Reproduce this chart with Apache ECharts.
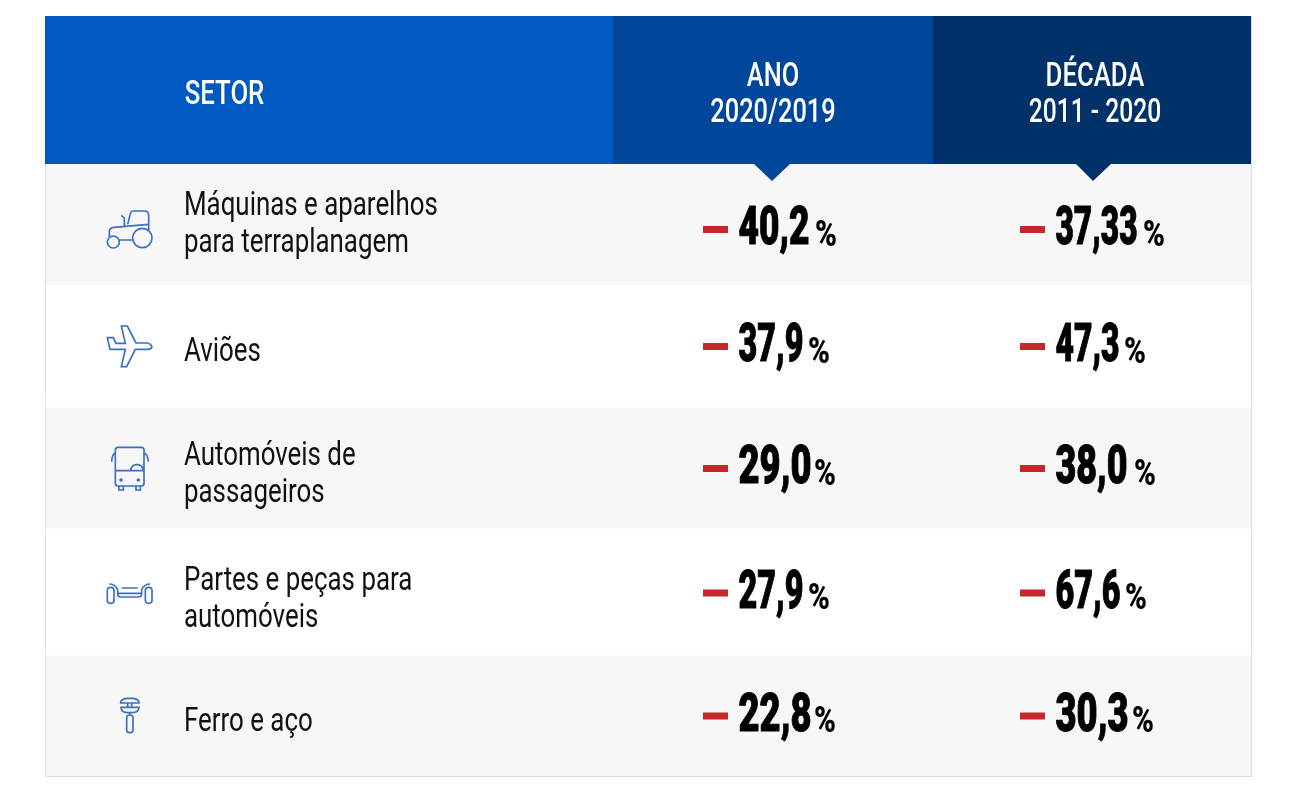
<!DOCTYPE html>
<html>
<head>
<meta charset="utf-8">
<style>
html, body { margin: 0; padding: 0; background: #fff; }
#chart { width: 1292px; height: 796px; }
</style>
<script src="https://cdn.jsdelivr.net/npm/echarts@6/dist/echarts.min.js"></script>
</head>
<body>
<div id="chart"></div>
<script>
// dados
const rowNames = ['tratores', 'avioes', 'automoveis', 'pecas', 'ferro'];
const sectorLines = [
    ['Máquinas e aparelhos', 'para terraplanagem'],
    ['Aviões'],
    ['Automóveis de', 'passageiros'],
    ['Partes e peças para', 'automóveis'],
    ['Ferro e aço']
];
const yearValues = ['40,2', '37,9', '29,0', '27,9', '22,8'];
const decadeValues = ['37,33', '47,3', '38,0', '67,6', '30,3'];
const headerSector = 'SETOR';
const headerYear = ['ANO', '2020/2019'];
const headerDecade = ['DÉCADA', '2011 - 2020'];

// layout
const rowEdges = [164, 285, 407, 529, 655, 776];
const rowShift = [0.3, 5.4, 5.5, 8.1, 8.2];
const valueShift = [5.8, 0.4, 0, 2.1, 2.7];
const yearWidths = [71, 65, 73, 65, 73];
const decadeWidths = [82, 64, 72, 65, 73];
const yearPercentX = [815, 808, 814, 808, 814];
const decadePercentX = [1143, 1124, 1134, 1125, 1132];
const COL_SECTOR = 184, COL_YEAR = 703, COL_DECADE = 1020;
const BLUE_1 = '#0059c0', BLUE_2 = '#00479b', BLUE_3 = '#003269';
const ICON_COLOR = '#3a6fc2';
const FONT = 'Roboto';

const circle = (cx, cy, r) => `M${cx - r} ${cy}a${r} ${r} 0 1 0 ${2 * r} 0a${r} ${r} 0 1 0 ${-2 * r} 0`;
const round = (x0, y0, x1, y1, r) => `M${x0 + r} ${y0}L${x1 - r} ${y0}Q${x1} ${y0} ${x1} ${y0 + r}L${x1} ${y1 - r}Q${x1} ${y1} ${x1 - r} ${y1}L${x0 + r} ${y1}Q${x0} ${y1} ${x0} ${y1 - r}L${x0} ${y0 + r}Q${x0} ${y0} ${x0 + r} ${y0}Z`;

// icones em coordenadas 3x; o par M inicial fixa a caixa do path para nao ser redimensionado
const iconBox = 'M0 0M270 960';
const icons = [
    { dy: -35.2, d: circle(157, 144, 29) + circle(70, 156, 18) +
        'M113 103L122 68Q123 63 130 63L163 63Q176 63 176 76L176 120' +
        'M58 140L58 125Q58 113 72 112L176 103M88 150L128 150M94 76L103 84L103 108' },
    { dy: -157.6, d: 'M94 408L112 408L138 459L172 459Q184 462 186 472Q184 478 172 478L136 478L110 530L94 530L106 478L60 478L52 443L70 443L78 460L106 460Z' },
    { dy: -40, d: round(76, 52, 162, 168, 8) + 'M76 122L162 122M122 122Q124 104 141 104Q158 104 160 122' +
        circle(93, 150, 3) + circle(145, 150, 3) +
        'M87 168L87 180L100 180L100 168M138 168L138 180L151 180L151 168' +
        'M76 68Q66 72 65 95M162 68Q173 72 175 95' },
    { dy: -162.4, d: round(52, 472, 72, 520, 9) + round(166, 472, 186, 520, 9) +
        'M58 462Q74 462 83 478M180 462Q164 462 155 478' +
        'M83 478L83 492Q83 501 92 501L146 501Q155 501 155 492L155 478M83 490L155 490M95 474L143 474' },
    { dy: -284.8, d: 'M92 819Q92 805 115 805L125 805Q147 805 147 819ZM93 832L147 832Q147 848 125 848L113 848Q93 848 93 832Z' +
        'M113 819L113 832M125 819L125 832M119 848L119 855' + round(110, 855, 129, 908, 8) }
];

const measureCtx = document.createElement('canvas').getContext('2d');
function textWidth(text, font) {
    measureCtx.font = font;
    return measureCtx.measureText(text).width;
}

// texto condensado: as fontes instaladas sao largas, entao aplica scaleX
function squeezed(x, y, text, size, weight, fill, scaleX, extra) {
    return {
        type: 'text', x: x, y: y, scaleX: scaleX,
        style: Object.assign({
            text: text, fontFamily: FONT, fontSize: size, fontWeight: weight, fill: fill,
            align: 'left', verticalAlign: 'middle'
        }, extra || {})
    };
}

function renderBand(params, api) {
    const i = api.value(1);
    return {
        type: 'rect',
        shape: { x: 45, y: rowEdges[i], width: 1206, height: rowEdges[i + 1] - rowEdges[i] },
        style: { fill: i % 2 === 0 ? '#f7f7f7' : '#ffffff' }
    };
}

function renderSector(params, api) {
    const i = api.value(1);
    const pt = api.coord([COL_SECTOR, rowNames[i]]);
    const lines = sectorLines[i];
    const cy = pt[1] + rowShift[i];
    const children = lines.map((line, k) =>
        squeezed(pt[0], cy + (k - (lines.length - 1) / 2) * 37, line, 33, 400, '#111', 0.784));
    children.push({
        type: 'group', x: 90, y: pt[1] + icons[i].dy, scaleX: 1 / 3, scaleY: 1 / 3,
        children: [{
            type: 'path',
            shape: { pathData: iconBox + icons[i].d, x: 0, y: 0, width: 270, height: 960, layout: 'cover' },
            style: { fill: 'none', stroke: ICON_COLOR, lineWidth: 5 }
        }]
    });
    return { type: 'group', children: children };
}

function valueRenderer(colX, values, widths, percentX) {
    return function (params, api) {
        const i = api.value(1);
        const pt = api.coord([colX, rowNames[i]]);
        const cy = pt[1] + valueShift[i];
        const numX = pt[0] + 35.5;
        const numScale = widths[i] / textWidth(values[i], `900 53px ${FONT}`);
        return {
            type: 'group',
            children: [
                { type: 'rect', shape: { x: pt[0], y: cy - 5, width: 25, height: 7 }, style: { fill: '#c4282b' } },
                squeezed(numX, cy, values[i], 53, 900, '#000', numScale, { stroke: '#000', lineWidth: 1 }),
                squeezed(percentX[i], cy + 5.5, '%', 37, 900, '#000', 0.8)
            ]
        };
    };
}

const rowData = rowNames.map((n, i) => [0, i]);

function headerText(x, y, text, scaleX) {
    return {
        type: 'text', x: x, y: y, scaleX: scaleX, z: 10,
        style: {
            text: text, fontFamily: FONT, fontSize: 33, fontWeight: 500, fill: '#fff',
            align: 'center', verticalAlign: 'middle'
        }
    };
}

const chart = echarts.init(document.getElementById('chart'), null, { renderer: 'canvas' });
chart.setOption({
    animation: false,
    backgroundColor: '#fff',
    grid: { left: 0, right: 0, top: 164, height: 612 },
    xAxis: { type: 'value', min: 0, max: 1292, show: false },
    yAxis: { type: 'category', data: rowNames, inverse: true, show: false },
    graphic: [
        { type: 'rect', z: 5, shape: { x: 45, y: 16, width: 568, height: 148 }, style: { fill: BLUE_1 } },
        { type: 'rect', z: 5, shape: { x: 613, y: 16, width: 320, height: 148 }, style: { fill: BLUE_2 } },
        { type: 'rect', z: 5, shape: { x: 933, y: 16, width: 318, height: 148 }, style: { fill: BLUE_3 } },
        { type: 'polygon', z: 5, shape: { points: [[754, 164], [790, 164], [772, 181]] }, style: { fill: BLUE_2 } },
        { type: 'polygon', z: 5, shape: { points: [[1076, 164], [1111, 164], [1093, 181]] }, style: { fill: BLUE_3 } },
        { type: 'rect', z: 4, shape: { x: 45.5, y: 16.5, width: 1206, height: 760 }, style: { fill: 'none', stroke: '#dedede', lineWidth: 1 } },
        headerText(224.5, 96, headerSector, 0.78),
        headerText(773, 78, headerYear[0], 0.77),
        headerText(773, 114, headerYear[1], 0.77),
        headerText(1095, 78, headerDecade[0], 0.78),
        headerText(1095, 114, headerDecade[1], 0.745)
    ],
    series: [
        { type: 'custom', coordinateSystem: 'cartesian2d', clip: false, z: 1, data: rowData, renderItem: renderBand, silent: true },
        { type: 'custom', coordinateSystem: 'cartesian2d', clip: false, z: 2, data: rowData, renderItem: renderSector, silent: true },
        { type: 'custom', coordinateSystem: 'cartesian2d', clip: false, z: 2, data: rowData, renderItem: valueRenderer(COL_YEAR, yearValues, yearWidths, yearPercentX), silent: true },
        { type: 'custom', coordinateSystem: 'cartesian2d', clip: false, z: 2, data: rowData, renderItem: valueRenderer(COL_DECADE, decadeValues, decadeWidths, decadePercentX), silent: true }
    ]
});
</script>
</body>
</html>
